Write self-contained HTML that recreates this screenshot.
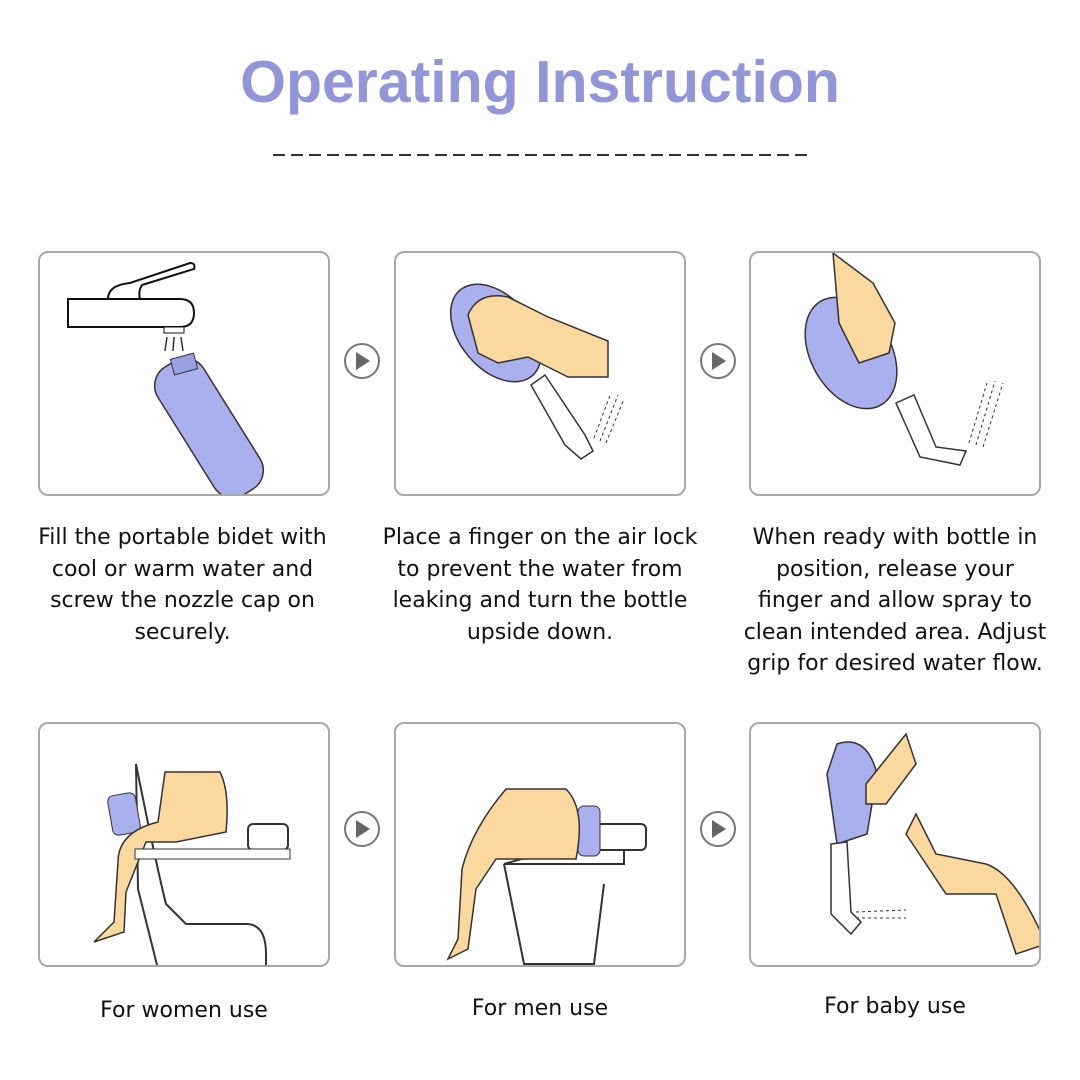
<!DOCTYPE html>
<html><head><meta charset="utf-8"><style>
body{margin:0;width:1080px;height:1080px;background:#fff;position:relative;overflow:hidden;font-family:"Liberation Sans",sans-serif}
.t{position:absolute;left:0;width:1080px;top:48px;text-align:center;font-size:59px;font-weight:bold;color:#9096d8;font-family:"Liberation Sans",sans-serif}
.p{position:absolute;width:292px;height:245px;border:2px solid #a8a8a8;border-radius:10px;box-sizing:border-box;overflow:hidden}
.c{position:absolute;text-align:center;font-size:22px;line-height:31.5px;color:#111;font-family:"DejaVu Sans",sans-serif}
svg{position:absolute;left:0;top:0}
</style></head><body>
<div class="t">Operating Instruction</div>
<svg width="1080" height="1080">
<line x1="273" y1="155" x2="808" y2="155" stroke="#333" stroke-width="2" stroke-dasharray="12,6"/>
<g fill="#fff" stroke="#777" stroke-width="2">
<circle cx="362" cy="361" r="17"/><circle cx="718" cy="361" r="17"/>
<circle cx="362" cy="829" r="17"/><circle cx="718" cy="829" r="17"/></g>
<g fill="#666"><path d="M356 352l14 9-14 9z"/><path d="M712 352l14 9-14 9z"/><path d="M356 820l14 9-14 9z"/><path d="M712 820l14 9-14 9z"/></g>
</svg>
<div class="p" style="left:38px;top:251px"><svg width="292" height="245">
<path d="M28 46h112q14 0 14 14t-14 14H28z" fill="#fff" stroke="#111" stroke-width="2"/>
<path d="M68 46q0-14 22-16l60-20q6 0 4 6l-52 16q-4 6 -2 14z" fill="#fff" stroke="#111" stroke-width="2"/>
<rect x="124" y="74" width="20" height="6" fill="#fff" stroke="#111"/>
<g stroke="#333" stroke-width="1.5"><line x1="127" y1="84" x2="125" y2="98"/><line x1="134" y1="84" x2="133" y2="98"/><line x1="141" y1="84" x2="143" y2="98"/></g>
<rect x="142" y="100" width="54" height="150" rx="22" transform="rotate(-32 169 175)" fill="#aab0ee" stroke="#333" stroke-width="1.5"/>
<rect x="132" y="103" width="24" height="16" transform="rotate(-15 144 111)" fill="#9aa0e4" stroke="#333"/>
</svg></div>
<div class="p" style="left:394px;top:251px"><svg width="292" height="245">
<ellipse cx="100" cy="80" rx="36" ry="56" transform="rotate(-40 100 80)" fill="#aab0ee" stroke="#333" stroke-width="1.5"/>
<path d="M72 62q10-24 40-18l40 20 60 24 0 36-40 0-40-20-30 6-20-10z" fill="#fad89e" stroke="#333" stroke-width="1.5"/>
<path d="M135 132l14-10 40 60 8 16-12 8-16-14z" fill="#fff" stroke="#333" stroke-width="1.5"/>
<g stroke="#333" stroke-dasharray="3,3"><line x1="198" y1="185" x2="215" y2="140"/><line x1="204" y1="188" x2="222" y2="142"/><line x1="210" y1="190" x2="228" y2="146"/></g>
</svg></div>
<div class="p" style="left:749px;top:251px"><svg width="292" height="245">
<ellipse cx="100" cy="100" rx="40" ry="60" transform="rotate(-30 100 100)" fill="#aab0ee" stroke="#333" stroke-width="1.5"/>
<path d="M82 0l40 30 22 40-6 30-30 10-20-40z" fill="#fad89e" stroke="#333" stroke-width="1.5"/>
<path d="M145 150l18-8 22 52 30 4-6 14-40-8z" fill="#fff" stroke="#333" stroke-width="1.5"/>
<g stroke="#333" stroke-dasharray="3,3"><line x1="218" y1="190" x2="236" y2="130"/><line x1="225" y1="192" x2="244" y2="128"/><line x1="232" y1="194" x2="252" y2="130"/></g>
</svg></div>
<div class="p" style="left:38px;top:722px"><svg width="292" height="245">
<path d="M96 40q20 100 30 140l20 20h60q20 0 20 30v15H118l-20-80z" fill="#fff" stroke="#333" stroke-width="2"/>
<rect x="208" y="100" width="40" height="26" rx="5" fill="#fff" stroke="#333" stroke-width="2"/>
<rect x="70" y="70" width="28" height="40" rx="6" fill="#aab0ee" stroke="#333" transform="rotate(-10 84 90)"/>
<path d="M125 48h55q10 20 6 60l-50 10-30 0-20 50 -2 40-30 10 20-20 4-60q0-30 40-40z" fill="#fad89e" stroke="#333" stroke-width="1.5"/>
<rect x="95" y="125" width="155" height="10" fill="#fff" stroke="#333"/>
</svg></div>
<div class="p" style="left:394px;top:722px"><svg width="292" height="245">
<path d="M108 140h120v-20h-50z" fill="#fff" stroke="#333" stroke-width="2"/>
<rect x="200" y="100" width="50" height="26" rx="5" fill="#fff" stroke="#333" stroke-width="2"/>
<rect x="182" y="82" width="22" height="50" rx="6" fill="#aab0ee" stroke="#333"/>
<path d="M110 65h60q20 20 10 70l-80 0-20 30-8 60-20 10 10-20 4-70q10-40 44-80z" fill="#fad89e" stroke="#333" stroke-width="1.5"/>
<path d="M108 140q10 50 20 100h70l10-80" fill="none" stroke="#333" stroke-width="2"/>
</svg></div>
<div class="p" style="left:749px;top:722px"><svg width="292" height="245">
<path d="M86 20q30-10 40 30l-10 60-30 10-10-70z" fill="#aab0ee" stroke="#333" stroke-width="1.5"/>
<path d="M115 60l40-50 10 30-30 40-20 0z" fill="#fad89e" stroke="#333" stroke-width="1.5"/>
<path d="M80 120l16-2 4 70 10 10-10 12-20-20z" fill="#fff" stroke="#333" stroke-width="1.5"/>
<g stroke="#333" stroke-dasharray="3,3"><line x1="105" y1="188" x2="155" y2="186"/><line x1="105" y1="194" x2="155" y2="194"/></g>
<path d="M165 90l20 40 50 10q30 10 60 80l-30 10-20-60-50 0-40-60z" fill="#fad89e" stroke="#333" stroke-width="1.5"/>
</svg></div>
<div class="c" style="left:10px;width:345px;top:522px">Fill the portable bidet with<br>cool or warm water and<br>screw the nozzle cap on<br>securely.</div>
<div class="c" style="left:365px;width:350px;top:522px">Place a finger on the air lock<br>to prevent the water from<br>leaking and turn the bottle<br>upside down.</div>
<div class="c" style="left:720px;width:350px;top:522px">When ready with bottle in<br>position, release your<br>finger and allow spray to<br>clean intended area. Adjust<br>grip for desired water flow.</div>
<div class="c" style="left:28px;width:312px;top:995px">For women use</div>
<div class="c" style="left:384px;width:312px;top:993px">For men use</div>
<div class="c" style="left:739px;width:312px;top:991px">For baby use</div>
</body></html>
